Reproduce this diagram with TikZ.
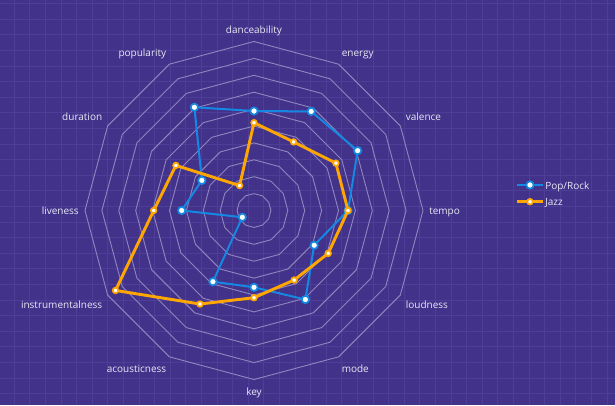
\documentclass[tikz,border=0pt]{standalone}
\usepackage{fontspec}
\setmainfont{Open Sans}
\definecolor{bgpurple}{RGB}{66,50,137}
\definecolor{gridpurple}{RGB}{77,63,151}
\definecolor{ringgray}{RGB}{142,132,190}
\definecolor{labeltext}{RGB}{232,232,246}
\definecolor{popblue}{RGB}{20,136,226}
\definecolor{jazzorange}{RGB}{255,166,0}
\tikzset{
  axislabel/.style={text=labeltext, font=\fontsize{7.5}{9}\selectfont,
    inner sep=0pt, text height=7.5pt, text depth=1.5pt},
  ring/.style={draw=ringgray, line width=0.7pt},
  popline/.style={draw=popblue, line width=1.5pt, line join=round},
  jazzline/.style={draw=jazzorange, line width=2.2pt, line join=round},
  popdot/.style={circle, fill=white, draw=popblue, line width=1.3pt,
    inner sep=0pt, minimum size=5.5pt},
  jazzdot/.style={circle, fill=white, draw=jazzorange, line width=1.3pt,
    inner sep=0pt, minimum size=4.2pt}
}
\begin{document}
\begin{tikzpicture}[x=0.75pt, y=0.75pt]
  \useasboundingbox (0,0) rectangle (615,405);
  \fill[bgpurple] (0,0) rectangle (615,405);
  \foreach \i in {0,...,38}
    \draw[gridpurple, line width=0.7pt] ({14.3+15.6*\i},0) -- ++(0,405);
  \foreach \i in {0,...,25}
    \draw[gridpurple, line width=0.7pt] (0,{401.3-15.6*\i}) -- ++(615,0);
  \begin{scope}[shift={(254,194.5)}]
    \foreach \k in {1,...,10}
      \draw[ring] (90:{16.9*\k}) \foreach \a in {60,30,...,-240} { -- (\a:{16.9*\k}) } -- cycle;
    \node[axislabel, anchor=south] (dance) at (90:175) {danceability};
    \node[axislabel, anchor=south west] (energy) at (60:175) {energy};
    \node[axislabel, anchor=south west] (valence) at (30:175) {valence};
    \node[axislabel, anchor=west] (tempo) at (0:175) {tempo};
    \node[axislabel, anchor=north west] (loud) at (-30:175) {loudness};
    \node[axislabel, anchor=north west] (mode) at (-60:175) {mode};
    \node[axislabel, anchor=north] (key) at (-90:175) {key};
    \node[axislabel, anchor=north east] (acoustic) at (-120:175) {acousticness};
    \node[axislabel, anchor=north east] (instr) at (-150:175) {instrumentalness};
    \node[axislabel, anchor=east] (live) at (180:175) {liveness};
    \node[axislabel, anchor=south east] (duration) at (150:175) {duration};
    \node[axislabel, anchor=south east] (popular) at (120:175) {popularity};
    \coordinate (p1) at (90:99.5);
    \coordinate (p2) at (60:114.4);
    \coordinate (p3) at (30:119.7);
    \coordinate (p4) at (0:94);
    \coordinate (p5) at (-30:69.5);
    \coordinate (p6) at (-60:102.8);
    \coordinate (p7) at (-90:76.8);
    \coordinate (p8) at (-120:82.2);
    \coordinate (p9) at (-150:13.5);
    \coordinate (p10) at (180:72.3);
    \coordinate (p11) at (150:60.2);
    \coordinate (p12) at (120:119.2);
    \coordinate (j1) at (90:87.8);
    \coordinate (j2) at (60:79.2);
    \coordinate (j3) at (30:94.6);
    \coordinate (j4) at (0:94);
    \coordinate (j5) at (-30:85.7);
    \coordinate (j6) at (-60:80.3);
    \coordinate (j7) at (-90:87.2);
    \coordinate (j8) at (-120:108);
    \coordinate (j9) at (-150:159.9);
    \coordinate (j10) at (180:100.3);
    \coordinate (j11) at (150:90.2);
    \coordinate (j12) at (120:28.8);
    \draw[popline] (p1) -- (p2) -- (p3) -- (p4) -- (p5) -- (p6) -- (p7)
      -- (p8) -- (p9) -- (p10) -- (p11) -- (p12) -- cycle;
    \foreach \i in {1,...,12}
      \node[popdot] (pm\i) at (p\i) {};
    \draw[jazzline] (j1) -- (j2) -- (j3) -- (j4) -- (j5) -- (j6) -- (j7)
      -- (j8) -- (j9) -- (j10) -- (j11) -- (j12) -- cycle;
    \foreach \i in {1,...,12}
      \node[jazzdot] (jm\i) at (j\i) {};
  \end{scope}
  \coordinate (popa) at (517.3,220);
  \coordinate (popb) at (542.7,220);
  \draw[popline] (popa) -- (popb);
  \node[popdot] (popkey) at (530,220) {};
  \node[axislabel, anchor=west] (poptext) at (545,220) {Pop/Rock};
  \coordinate (jazza) at (517.3,203.3);
  \coordinate (jazzb) at (542.7,203.3);
  \draw[jazzline] (jazza) -- (jazzb);
  \node[jazzdot] (jazzkey) at (530,203.3) {};
  \node[axislabel, anchor=west] (jazztext) at (545,203.3) {Jazz};
\end{tikzpicture}
\end{document}
